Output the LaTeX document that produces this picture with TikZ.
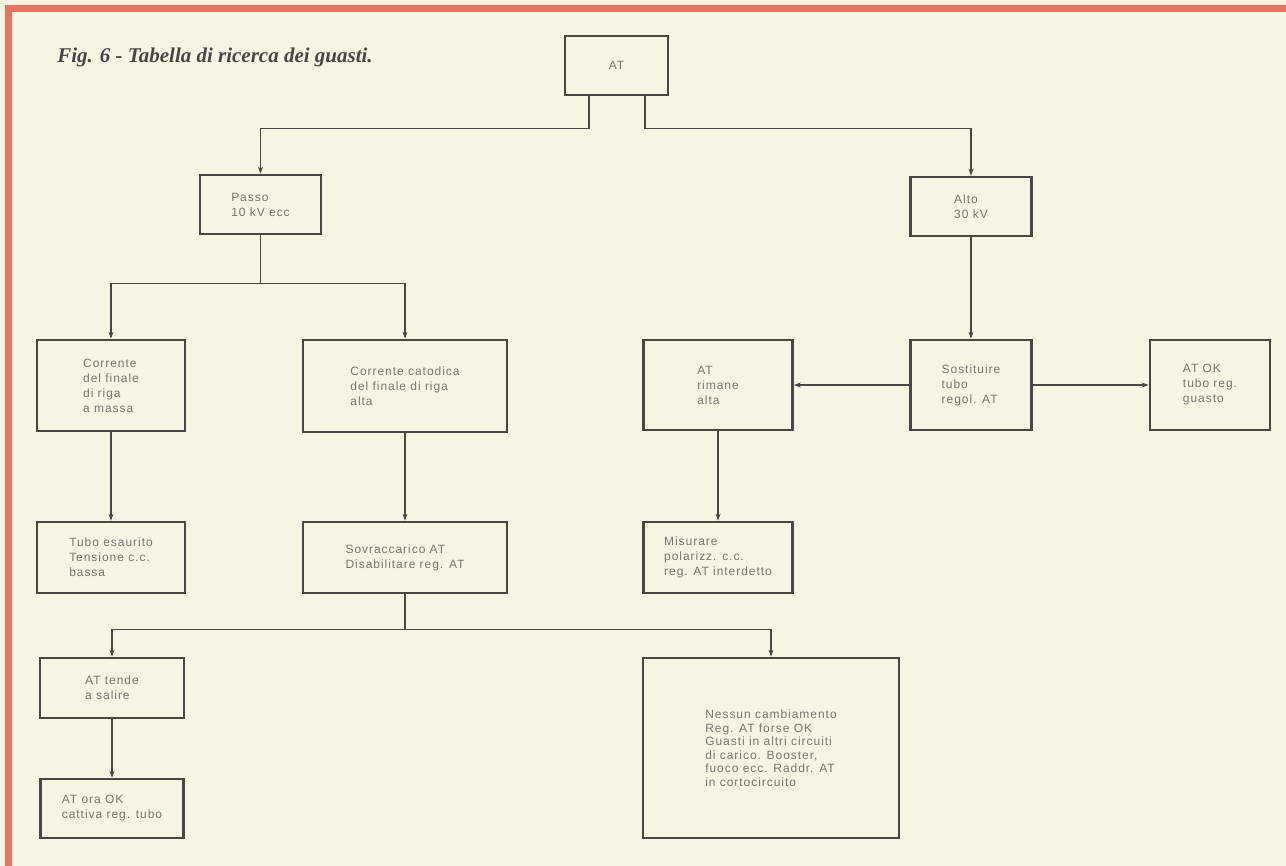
\documentclass[tikz,border=0pt]{standalone}
\usepackage{fontspec}
\usetikzlibrary{arrows.meta}
\newfontfamily\boxfont[LetterSpace=8]{Liberation Sans}
\newfontfamily\capfont{Liberation Serif}
\definecolor{paper}{HTML}{F8F4E4}
\definecolor{frame}{HTML}{E8735E}
\definecolor{ink}{HTML}{4A4641}
\definecolor{inkt}{HTML}{7A756E}
\begin{document}
\begin{tikzpicture}
[x=1pt,y=-1pt,
 every node/.style={draw=ink, line width=2.7pt, align=left, text=inkt, inner sep=0pt,
   font=\boxfont\fontsize{12}{15}\selectfont},
 link/.style={draw=ink, line width=1.5pt},
 tip/.style={-{Stealth[length=7pt,width=5pt]}}]
\fill[paper] (0,0) rectangle (1286,866);
\useasboundingbox (0,0) rectangle (1286,866);
%\draw[frame, line width=7pt] (8,866) -- (8,9) -- (1286,9);
\draw[frame, line width=7pt] (8,866) -- (8,9) -- (1286,9);
\node[draw=none, anchor=base west, text=ink, font=\capfont\bfseries\itshape\fontsize{21}{24}\selectfont] (cap) at (56,63) {Fig. 6 - Tabella di ricerca dei guasti.};
\node[minimum width=103pt, minimum height=59pt] (at) at (616.5,65.5) {AT};
\node[minimum width=121pt, minimum height=59pt] (passo) at (260.5,204.5) {Passo\\10 kV ecc};
\node[minimum width=121pt, minimum height=59pt] (alto) at (971,206.5) {Alto\\30 kV};
\node[minimum width=148pt, minimum height=91pt] (corr) at (111,385.5) {Corrente\\del finale\\di riga\\a massa};
\node[minimum width=204pt, minimum height=92pt] (catod) at (405,386) {Corrente catodica\\del finale di riga\\alta};
\node[minimum width=149pt, minimum height=90pt] (rimane) at (718,385) {AT\\rimane\\alta};
\node[minimum width=121pt, minimum height=90pt] (sost) at (971,385) {Sostituire\\tubo\\regol. AT};
\node[minimum width=120pt, minimum height=90pt] (atok) at (1210,385) {AT OK\\tubo reg.\\guasto};
\node[minimum width=148pt, minimum height=71pt] (tubo) at (111,557.5) {Tubo esaurito\\Tensione c.c.\\bassa};
\node[minimum width=204pt, minimum height=71pt] (sovr) at (405,557.5) {Sovraccarico AT\\Disabilitare reg. AT};
\node[minimum width=149pt, minimum height=71pt] (misur) at (718,557.5) {Misurare\\polarizz. c.c.\\reg. AT interdetto};
\node[minimum width=144pt, minimum height=60pt] (tende) at (112,688) {AT tende\\a salire};
\node[minimum width=143pt, minimum height=59pt] (oraok) at (112,808.5) {AT ora OK\\cattiva reg. tubo};
\node[minimum width=256pt, minimum height=180pt, font=\boxfont\fontsize{12}{13.5}\selectfont] (nessun) at (771,748) {Nessun cambiamento\\Reg. AT forse OK\\Guasti in altri circuiti\\di carico. Booster,\\fuoco ecc. Raddr. AT\\in cortocircuito};
\draw[link,tip] ([xshift=-27.5pt]at.south) -- ++(0,32) -| (passo.north);
\draw[link,tip] ([xshift=28.5pt]at.south) -- ++(0,32) -| (alto.north);
\draw[link] (passo.south) -- ++(0,48) coordinate (split1);
\draw[link,tip] (split1) -| (corr.north);
\draw[link,tip] (split1) -| (catod.north);
\draw[link,tip] (corr) -- (tubo);
\draw[link,tip] (catod) -- (sovr);
\draw[link,tip] (alto) -- (sost);
\draw[link,tip] (sost) -- (rimane);
\draw[link,tip] (sost) -- (atok);
\draw[link,tip] (rimane) -- (misur);
\draw[link] (sovr.south) -- ++(0,35) coordinate (split2);
\draw[link,tip] (split2) -| (tende.north);
\draw[link,tip] (split2) -| (nessun.north);
\draw[link,tip] (tende) -- (oraok);
\end{tikzpicture}
\end{document}
